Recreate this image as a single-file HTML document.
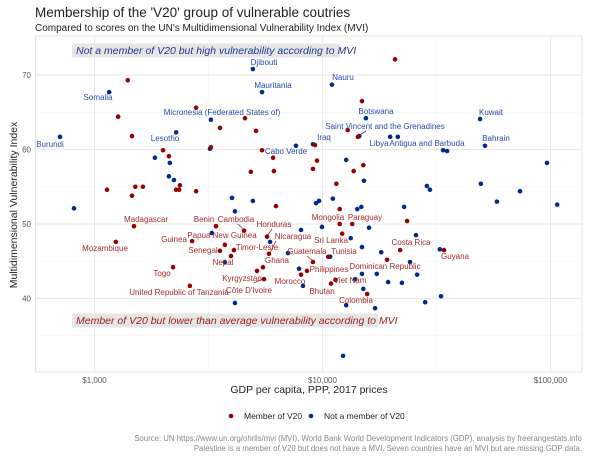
<!DOCTYPE html>
<html><head><meta charset="utf-8"><style>
body{margin:0;background:#fff;}
svg{display:block;font-family:"Liberation Sans",sans-serif;}
</style></head><body>
<svg id="chart" width="600" height="459" viewBox="0 0 600 459">
<text x="35" y="17" font-size="13.5" fill="#222">Membership of the 'V20' group of vulnerable coutries</text>
<text x="35" y="31" font-size="10" fill="#222">Compared to scores on the UN's Multidimensional Vulnerability Index (MVI)</text>
<rect x="35.5" y="36" width="546.5" height="336" fill="#fff" stroke="#dcdcdc" stroke-width="0.8"/>
<g id="grid"></g>
<g id="leaders" stroke-width="0.8"></g>
<g id="points"></g>
<g id="labels" font-size="8"></g>
<g>
<rect x="72" y="43.5" width="268" height="14" rx="2" fill="#e6e6e6"/>
<text x="76" y="54" font-size="10.5" font-style="italic" fill="#1f3a93">Not a member of V20 but high vulnerability according to MVI</text>
</g>
<g>
<rect x="72" y="313.5" width="306" height="14" rx="2" fill="#e6e6e6"/>
<text x="76" y="324" font-size="10.5" font-style="italic" fill="#9b1c1c">Member of V20 but lower than average vulnerability according to MVI</text>
</g>
<text transform="translate(17,205) rotate(-90)" text-anchor="middle" font-size="10.5" fill="#222">Multidimensional Vulnerability Index</text>
<text x="309" y="393" text-anchor="middle" font-size="10.5" fill="#222">GDP per capita, PPP, 2017 prices</text>
<g>
<circle cx="231" cy="416" r="2.3" fill="#9b0000"/>
<text x="244" y="419" font-size="8.5" fill="#222">Member of V20</text>
<circle cx="311" cy="416" r="2.3" fill="#002a8f"/>
<text x="324" y="419" font-size="8.5" fill="#222">Not a member of V20</text>
</g>
<text x="582" y="441" text-anchor="end" font-size="7.8" fill="#888">Source: UN https://www.un.org/ohrlls/mvi (MVI), World Bank World Development Indicators (GDP), analysis by freerangestats.info</text>
<text x="582" y="451" text-anchor="end" font-size="7.8" fill="#888">Palestine is a member of V20 but does not have a MVI. Seven countries have an MVI but are missing GDP data.</text>
</svg>
<script>
const memberGdp=[20800,1400,2790,1270,4570,3550,5110,1460,3240,5430,6070,9270,2000,2120,9460,4850,6120,9080,1135,1510,1630,1460,2370,2280,2350,2790,6250,14900,12900,14300,15100,13700,11500,11900,1490,1240,3410,4530,2680,5710,3550,3730,4090,3970,5820,9080,2210,5480,5160,5540,2620,8550,8050,10600,11900,13500,23500,12200,21900,34100,19200,11400,10900,15700];
const memberMvi=[72.1,69.3,65.6,64.4,64.2,62.9,62.5,61.8,60.3,59.9,58.9,60.6,59.9,59.1,58.5,57.0,57.1,57.4,54.6,55.0,55.0,53.8,55.2,54.6,54.6,54.4,52.4,66.5,62.6,61.7,57.9,57.1,55.4,52.0,49.7,47.6,49.7,49.1,47.7,48.3,46.4,47.2,46.5,45.7,46.0,44.9,44.2,44.2,43.7,42.6,41.7,43.7,43.2,45.6,50.0,50.0,50.4,48.7,46.5,46.5,45.2,42.5,42.0,40.6];
const otherGdp=[706,1160,4950,5430,3240,2280,1840,2140,2120,2230,3210,7650,9080,4010,4950,9360,9660,813,11000,15500,14500,19800,21400,33800,35200,49100,51600,12700,96500,15200,28700,29600,49500,73500,11100,58200,107000,14200,14800,22800,4130,3270,5890,7060,3730,7890,8210,8050,9950,4130,16000,13300,14900,18100,25700,32700,10800,24200,14900,17300,26000,13900,19400,22300,15100,33100,28200,12700,17000,12300];
const otherMvi=[61.7,67.7,70.8,67.7,64.0,62.3,58.9,58.2,56.4,55.9,60.1,60.5,60.7,53.5,53.1,52.8,53.1,52.1,68.7,64.2,61.8,61.7,61.7,59.9,59.8,64.1,60.5,58.6,58.2,55.8,55.1,54.6,55.4,54.4,53.4,53.0,52.6,52.0,52.3,52.3,51.7,48.8,47.6,46.1,44.9,44.0,41.7,49.2,49.6,39.4,49.5,48.1,46.9,46.2,48.5,46.6,45.6,44.9,43.3,43.3,43.2,42.6,42.2,42.1,41.3,40.3,39.5,39.1,38.7,32.3];
const xTicks=[1000,10000,100000];
const xTickLabels=["$1,000","$10,000","$100,000"];
const xMinor=[316.2,3162,31623];
const yTicks=[40,50,60,70];
const yMinor=[35,45,55,65];

const NS="http://www.w3.org/2000/svg";
function X(g){return 94.5+228*Math.log10(g/1000);}
function Y(v){return 75+(70-v)*7.45;}
function mk(tag,attrs,parent){const e=document.createElementNS(NS,tag);for(const k in attrs)e.setAttribute(k,attrs[k]);parent.appendChild(e);return e;}
const svg=document.getElementById('chart');
const grid=document.getElementById('grid');
xMinor.forEach(v=>{const x=X(v);if(x>36&&x<582){const l=mk('line',{x1:x,x2:x,y1:36,y2:372,stroke:'#f3f3f3','stroke-width':0.6},grid);

}});
yMinor.forEach(v=>{const y=Y(v);const l=mk('line',{x1:35.5,x2:582,y1:y,y2:y,stroke:'#f3f3f3','stroke-width':0.6},grid);

});
xTicks.forEach((v,i)=>{const x=X(v);const l=mk('line',{x1:x,x2:x,y1:36,y2:372,stroke:'#e8e8e8','stroke-width':0.9},grid);


const t=mk('text',{x:x,y:383,'text-anchor':'middle','font-size':8,fill:'#555'},svg);t.textContent=xTickLabels[i];

});
yTicks.forEach(v=>{const y=Y(v);const l=mk('line',{x1:35.5,x2:582,y1:y,y2:y,stroke:'#e8e8e8','stroke-width':0.9},grid);


const t=mk('text',{x:31,y:y+3,'text-anchor':'end','font-size':8,fill:'#555'},svg);t.textContent=v;

});
const pts=document.getElementById('points');
otherGdp.forEach((g,i)=>{const c=mk('circle',{cx:X(g),cy:Y(otherMvi[i]),r:2.3,fill:'#002a8f'},pts);

});
memberGdp.forEach((g,i)=>{const c=mk('circle',{cx:X(g),cy:Y(memberMvi[i]),r:2.3,fill:'#9b0000'},pts);

});
const blueLabels=[["Burundi",50,145],["Somalia",98,98],["Djibouti",264,63],["Mauritania",273,86],["Micronesia (Federated States of)",222,113],["Lesotho",165,139],["Iraq",324,138],["Cabo Verde",286,152],["Nauru",343,78],["Botswana",376,112],["Saint Vincent and the Grenadines",385,127],["Libya",379,144],["Antigua and Barbuda",427,144],["Kuwait",491,113],["Bahrain",496,139]];
const redLabels=[["Madagascar",146,220],["Mozambique",105,249],["Benin",204,220],["Cambodia",236,220],["Honduras",274,225],["Guinea",174,240],["Papua New Guinea",222,236],["Nicaragua",293,237],["Senegal",203,251],["Timor-Leste",257,248],["Nepal",223,263],["Ghana",277,261],["Guatemala",307,252],["Togo",162,274],["Kyrgyzstan",242,279],["Côte D'Ivoire",249,291],["Morocco",290,282],["United Republic of Tanzania",179,293],["Mongolia",328,218],["Paraguay",365,218],["Sri Lanka",331,241],["Tunisia",344,252],["Philippines",329,270],["Dominican Republic",385,267],["Viet Nam",350,281],["Bhutan",322,292],["Colombia",356,301],["Costa Rica",411,243],["Guyana",455,257]];
const lg=document.getElementById('labels');
blueLabels.forEach(d=>{const t=mk('text',{x:d[1],y:d[2],'text-anchor':'middle','dominant-baseline':'middle',fill:'#2a4aa8'},lg);t.textContent=d[0];

});
redLabels.forEach(d=>{const t=mk('text',{x:d[1],y:d[2],'text-anchor':'middle','dominant-baseline':'middle',fill:'#a52a2a'},lg);t.textContent=d[0];

});
const ld=document.getElementById('leaders');
[[366,131,358,136,'#2a4aa8'],[238,224,244,230,'#a52a2a'],[272,229,267,236,'#a52a2a'],[276,241,270,253,'#a52a2a'],[307,256,313,261,'#a52a2a'],[254,283,263,279,'#a52a2a']].forEach(s=>{const l=mk('line',{x1:s[0],y1:s[1],x2:s[2],y2:s[3],stroke:s[4]},ld);

});
</script>
</body></html>
